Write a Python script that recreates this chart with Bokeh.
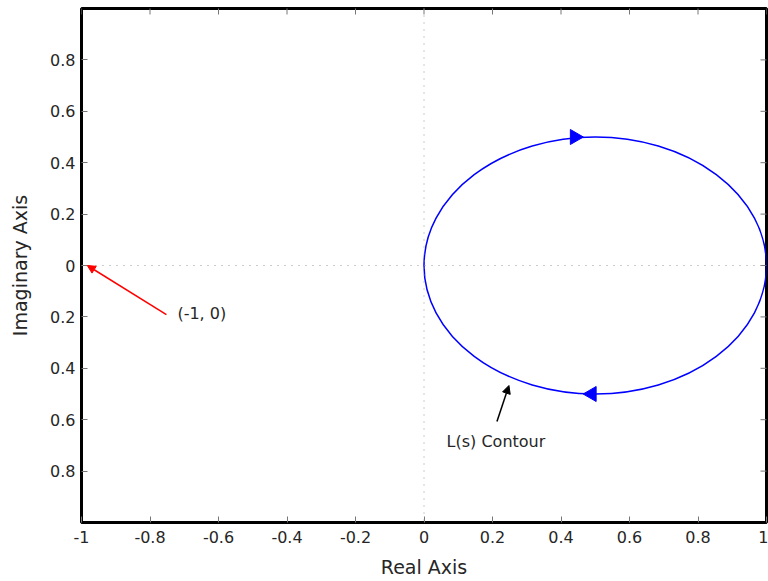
import math
from bokeh.plotting import figure
from bokeh.models import (Range1d, FixedTicker, Span, Arrow, NormalHead, Label)
from bokeh.embed import file_html
from bokeh.resources import INLINE

# Data
x_ticks = [-1, -0.8, -0.6, -0.4, -0.2, 0, 0.2, 0.4, 0.6, 0.8, 1]
x_tick_labels = ["-1", "-0.8", "-0.6", "-0.4", "-0.2", "0", "0.2", "0.4", "0.6", "0.8", "1"]
y_ticks = [-0.8, -0.6, -0.4, -0.2, 0, 0.2, 0.4, 0.6, 0.8]
y_tick_labels = ["0.8", "0.6", "0.4", "0.2", "0", "0.2", "0.4", "0.6", "0.8"]

contour_center = (0.5, 0.0)
contour_diameter = 1.0
arrow_marks_x = [0.44, 0.49]
arrow_marks_y = [0.5, -0.5]
arrow_marks_angle = [-math.pi / 2, math.pi / 2]

critical_point = (-0.983, 0.0)
critical_label_pos = (-0.752, -0.191)
critical_text = "(-1, 0)"
critical_text_pos = (-0.72, -0.187)

contour_arrow_start = (0.213, -0.607)
contour_arrow_end = (0.248, -0.467)
contour_text = "L(s) Contour"
contour_text_pos = (0.066, -0.685)

x_min, x_max = -1, 1
y_min, y_max = -1, 1

FONT = "DejaVu Sans"
TEXT_COLOR = "#262626"
TICK_COLOR = "#777777"

p = figure(width=768, height=581, output_backend="svg", toolbar_location=None,
           x_range=Range1d(x_min, x_max), y_range=Range1d(y_min, y_max),
           min_border_left=81, min_border_right=2, min_border_top=8, min_border_bottom=59,
           x_axis_label="Real Axis", y_axis_label="Imaginary Axis")
p.grid.visible = False
p.outline_line_color = "black"
p.outline_line_width = 3
p.background_fill_color = "white"
p.border_fill_color = "white"

for ax in (p.xaxis[0], p.yaxis[0]):
    ax.axis_line_color = None
    ax.major_tick_in = 6
    ax.major_tick_out = 0
    ax.minor_tick_line_color = None
    ax.major_tick_line_color = TICK_COLOR
    ax.major_label_text_font = FONT
    ax.major_label_text_font_size = "16px"
    ax.major_label_text_color = TEXT_COLOR
    ax.axis_label_text_font = FONT
    ax.axis_label_text_font_size = "19px"
    ax.axis_label_text_font_style = "normal"
    ax.axis_label_text_color = TEXT_COLOR

p.xaxis[0].ticker = FixedTicker(ticks=x_ticks)
p.xaxis[0].major_label_overrides = {t: s for t, s in zip(x_ticks, x_tick_labels)}
p.xaxis[0].major_label_standoff = 8
p.xaxis[0].axis_label_standoff = 10
p.yaxis[0].ticker = FixedTicker(ticks=y_ticks)
p.yaxis[0].major_label_overrides = {t: s for t, s in zip(y_ticks, y_tick_labels)}
p.yaxis[0].major_label_standoff = 6
p.yaxis[0].axis_label_standoff = 16

# inward ticks on the top and right frame edges
p.scatter(x=x_ticks, y=[y_max] * len(x_ticks), marker="dash", angle=math.pi / 2,
          size=12, line_color=TICK_COLOR, line_width=1)
p.scatter(x=[x_max] * len(y_ticks), y=y_ticks, marker="dash",
          size=12, line_color=TICK_COLOR, line_width=1)

p.add_layout(Span(location=0, dimension="width", line_color="#999999", line_dash="1 6", line_width=1))
p.add_layout(Span(location=0, dimension="height", line_color="#999999", line_dash="1 6", line_width=1))

p.ellipse(x=[contour_center[0]], y=[contour_center[1]], width=contour_diameter, height=contour_diameter,
          fill_color=None, line_color="blue", line_width=1.5)
p.scatter(x=arrow_marks_x, y=arrow_marks_y, angle=arrow_marks_angle, marker="triangle",
          size=15, fill_color="blue", line_color="blue")

p.add_layout(Arrow(x_start=critical_label_pos[0], y_start=critical_label_pos[1],
                   x_end=critical_point[0], y_end=critical_point[1],
                   line_color="red", line_width=1.5,
                   end=NormalHead(size=8, fill_color="red", line_color="red")))
p.add_layout(Label(x=critical_text_pos[0], y=critical_text_pos[1], text=critical_text,
                   text_font=FONT, text_font_size="16px", text_color=TEXT_COLOR,
                   text_baseline="middle"))

p.add_layout(Arrow(x_start=contour_arrow_start[0], y_start=contour_arrow_start[1],
                   x_end=contour_arrow_end[0], y_end=contour_arrow_end[1],
                   line_color="black", line_width=1.5,
                   end=NormalHead(size=8, fill_color="black", line_color="black")))
p.add_layout(Label(x=contour_text_pos[0], y=contour_text_pos[1], text=contour_text,
                   text_font=FONT, text_font_size="16px", text_color=TEXT_COLOR,
                   text_baseline="middle"))

open("out.html", "w").write(file_html(p, INLINE))
